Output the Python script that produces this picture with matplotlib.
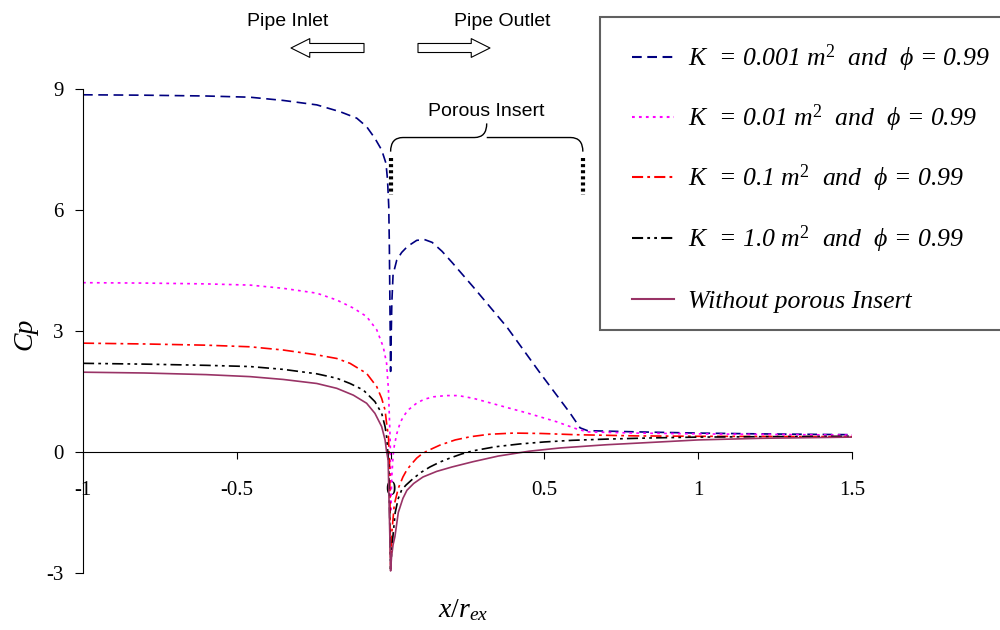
import matplotlib
matplotlib.use('Agg')
import matplotlib.pyplot as plt
from matplotlib.lines import Line2D
from matplotlib.patches import Rectangle, FancyArrowPatch, PathPatch
from matplotlib.path import Path


plt.rcParams['font.family'] = ['Liberation Serif', 'DejaVu Serif']
plt.rcParams['axes.unicode_minus'] = False
plt.rcParams['mathtext.fontset'] = 'custom'
plt.rcParams['mathtext.rm'] = 'Liberation Serif'
plt.rcParams['mathtext.it'] = 'Liberation Serif:italic'
plt.rcParams['lines.scale_dashes'] = False

# Data
x_k0001 = [-1, -0.8, -0.6, -0.457, -0.349, -0.24, -0.164, -0.11, -0.078, -0.051,
           -0.029, -0.015, -0.01, -0.006, -0.004, -0.002, 0.0, 0.002, 0.004, 0.008,
           0.02, 0.036, 0.055, 0.085, 0.11, 0.135, 0.167, 0.2, 0.268, 0.378, 0.486,
           0.583, 0.616, 0.64, 0.8, 1.0, 1.2, 1.5]
cp_k0001 = [8.86, 8.85, 8.83, 8.8, 8.72, 8.61, 8.44, 8.28, 8.07, 7.78,
            7.49, 7.16, 6.75, 6.09, 5.09, 3.5, 2.0, 2.9, 3.7, 4.4,
            4.76, 4.95, 5.1, 5.25, 5.27, 5.2, 4.98, 4.7, 4.1, 3.1, 1.96,
            0.97, 0.6, 0.53, 0.5, 0.47, 0.45, 0.43]

x_k001 = [-1, -0.8, -0.6, -0.457, -0.349, -0.24, -0.175, -0.121, -0.078, -0.045,
          -0.024, -0.013, -0.007, -0.004, -0.001, 0.0, 0.004, 0.008, 0.012, 0.02,
          0.028, 0.036, 0.048, 0.06, 0.086, 0.11, 0.14, 0.18, 0.22, 0.27, 0.323,
          0.38, 0.443, 0.54, 0.606, 0.64, 0.8, 1.0, 1.5]
cp_k001 = [4.2, 4.19, 4.17, 4.14, 4.06, 3.94, 3.77, 3.57, 3.36, 3.03,
           2.61, 2.2, 1.54, 0.88, 0.2, -1.5, -0.6, -0.1, 0.15, 0.45,
           0.65, 0.8, 0.95, 1.06, 1.22, 1.31, 1.37, 1.4, 1.4, 1.33, 1.22,
           1.1, 0.97, 0.75, 0.57, 0.5, 0.47, 0.45, 0.42]

x_k01 = [-1, -0.8, -0.6, -0.457, -0.349, -0.24, -0.175, -0.132, -0.078, -0.045,
         -0.029, -0.018, -0.013, -0.007, -0.003, 0.0, 0.004, 0.012, 0.025, 0.04,
         0.053, 0.07, 0.085, 0.1, 0.117, 0.16, 0.21, 0.26, 0.32, 0.4, 0.49, 0.6,
         0.8, 1.0, 1.5]
cp_k01 = [2.7, 2.68, 2.65, 2.61, 2.53, 2.41, 2.32, 2.2, 1.95, 1.62,
          1.33, 1.04, 0.71, 0.38, -0.4, -2.9, -2.0, -1.3, -0.9, -0.62,
          -0.44, -0.28, -0.15, -0.06, 0.02, 0.17, 0.3, 0.38, 0.44, 0.47, 0.46, 0.43,
          0.4, 0.39, 0.38]

x_k1 = [-1, -0.8, -0.6, -0.457, -0.349, -0.24, -0.175, -0.132, -0.089, -0.051,
        -0.029, -0.018, -0.013, -0.006, 0.0, 0.005, 0.015, 0.025, 0.036, 0.05,
        0.073, 0.1, 0.128, 0.16, 0.193, 0.23, 0.268, 0.34, 0.42, 0.5, 0.59, 0.7,
        0.85, 1.0, 1.2, 1.5]
cp_k1 = [2.2, 2.18, 2.15, 2.12, 2.05, 1.94, 1.83, 1.7, 1.54, 1.25,
         0.96, 0.63, 0.38, -0.3, -2.9, -2.3, -1.5, -1.15, -0.94, -0.82,
         -0.66, -0.5, -0.37, -0.25, -0.15, -0.05, 0.03, 0.13, 0.2, 0.25, 0.29, 0.32,
         0.35, 0.37, 0.38, 0.39]

x_none = [-1, -0.8, -0.6, -0.457, -0.349, -0.24, -0.175, -0.121, -0.078, -0.051,
          -0.029, -0.018, -0.013, -0.008, 0.0, 0.003, 0.008, 0.014, 0.025, 0.04,
          0.053, 0.075, 0.105, 0.15, 0.2, 0.268, 0.35, 0.45, 0.55, 0.7, 0.876, 1.0,
          1.2, 1.5]
cp_none = [1.98, 1.96, 1.92, 1.87, 1.8, 1.7, 1.58, 1.41, 1.21, 0.96,
           0.63, 0.3, 0.01, -0.2, -2.95, -2.6, -2.3, -2.1, -1.5, -1.15,
           -0.95, -0.78, -0.62, -0.48, -0.37, -0.24, -0.1, 0.02, 0.1, 0.18, 0.25, 0.3,
           0.34, 0.37]

labels = ['K  = 0.001 m$^2$  and  \u03d5 = 0.99',
          'K  = 0.01 m$^2$  and  \u03d5 = 0.99',
          'K  = 0.1 m$^2$  and  \u03d5 = 0.99',
          'K  = 1.0 m$^2$  and  \u03d5 = 0.99',
          'Without porous Insert']
colors = ['#000080', '#FF00FF', '#FF0000', '#000000', '#993366']
dashes = [(7, 4), (2, 3), (8, 3, 2, 3), (8, 3, 2, 3, 2, 3), ()]

xticks = [-1, -0.5, 0, 0.5, 1, 1.5]
xticklabels = ['-1', '-0.5', '0', '0.5', '1', '1.5']
yticks = [-3, 0, 3, 6, 9]

insert_start = 0.0
insert_end = 0.625

# Plot
fig = plt.figure(figsize=(10, 6.3), dpi=100)
ax = fig.add_axes([0.083, 0.0905, 0.769, 0.768])

series = [(x_k0001, cp_k0001), (x_k001, cp_k001), (x_k01, cp_k01),
          (x_k1, cp_k1), (x_none, cp_none)]
for (xs, ys), c, d in zip(series, colors, dashes):
    line, = ax.plot(xs, ys, color=c, lw=1.2)
    if d:
        line.set_dashes(d)

ax.set_xlim(-1, 1.5)
ax.set_ylim(-3, 9)
ax.spines['top'].set_visible(False)
ax.spines['right'].set_visible(False)
ax.spines['bottom'].set_position(('data', 0))
ax.set_xticks(xticks)
ax.set_xticklabels(xticklabels)
ax.set_yticks(yticks)
ax.tick_params(axis='x', direction='out', length=5, pad=16, labelsize=15)
ax.tick_params(axis='y', direction='out', length=6, pad=8, labelsize=15)

# Axis labels
fig.text(0.025, 0.47, 'Cp', rotation=90, fontsize=20, fontstyle='italic',
         ha='center', va='center')
fig.text(0.463, 1 - 617 / 630, '$x/r_{ex}$', fontsize=20, ha='center', va='baseline')

# Porous insert markers and brace
for xv in (insert_start, insert_end):
    ax.plot([xv, xv], [7.3, 6.38], color='black', lw=3, dashes=(2.2, 2.2),
            dash_capstyle='butt')
xm = (insert_start + insert_end) / 2
brace = Path([(insert_start, 7.45), (insert_start, 7.8), (insert_start + 0.04, 7.8),
              (xm - 0.04, 7.8), (xm, 7.8), (xm, 8.15),
              (xm, 7.8), (xm + 0.04, 7.8),
              (insert_end - 0.04, 7.8), (insert_end, 7.8), (insert_end, 7.45)],
             [Path.MOVETO, Path.CURVE3, Path.CURVE3,
              Path.LINETO, Path.CURVE3, Path.CURVE3,
              Path.MOVETO, Path.CURVE3,
              Path.LINETO, Path.CURVE3, Path.CURVE3])
ax.add_patch(PathPatch(brace, facecolor='none', edgecolor='black', lw=1.0, clip_on=False))
ax.text(xm, 8.34, 'Porous Insert', fontsize=14, family='Liberation Sans',
        ha='center', va='baseline')

# Pipe inlet / outlet arrows
fig.text(0.288, 1 - 22 / 630, 'Pipe Inlet', fontsize=14, family='Liberation Sans',
         ha='center', va='center')
fig.text(0.502, 1 - 22 / 630, 'Pipe Outlet', fontsize=14, family='Liberation Sans',
         ha='center', va='center')
arrow_style = 'simple,head_length=13.5,head_width=13.5,tail_width=6.5'
for a, b in (((0.364, 1 - 48 / 630), (0.291, 1 - 48 / 630)),
             ((0.418, 1 - 48 / 630), (0.490, 1 - 48 / 630))):
    fig.add_artist(FancyArrowPatch(a, b, transform=fig.transFigure, arrowstyle=arrow_style,
                                   mutation_scale=1, facecolor='white', edgecolor='black',
                                   lw=0.8, shrinkA=0, shrinkB=0))

# Legend box
fig.add_artist(Rectangle((0.600, 1 - 330 / 630), 0.41, 313 / 630, transform=fig.transFigure,
                         facecolor='white', edgecolor='#606060', lw=1.5))
rows = [57, 117, 177, 238, 299]
for lab, c, d, r in zip(labels, colors, dashes, rows):
    yf = 1 - r / 630
    ln = Line2D([0.632, 0.674], [yf, yf], transform=fig.transFigure, color=c, lw=1.5)
    if d:
        ln.set_dashes(d)
    fig.add_artist(ln)
    fig.text(0.688, 1 - (r + 9) / 630, lab, fontsize=18.5, fontstyle='italic', va='baseline')

plt.savefig('out.png', dpi=100)
